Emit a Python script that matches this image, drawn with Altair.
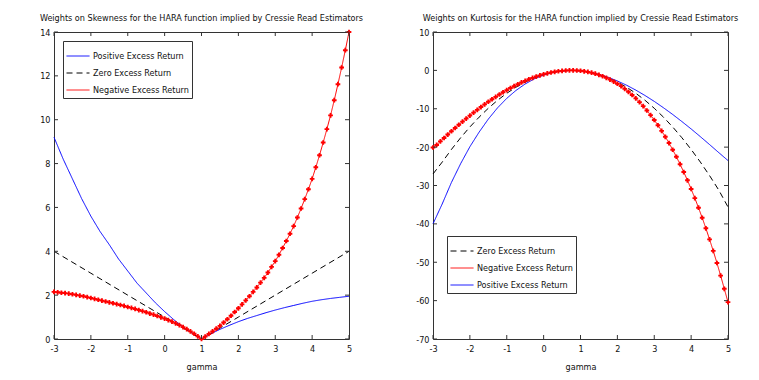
import altair as alt
import pandas as pd

# ---------------- data ----------------
gamma_fine = [-3.0, -2.9, -2.8, -2.7, -2.6, -2.5, -2.4, -2.3, -2.2, -2.1,
              -2.0, -1.9, -1.8, -1.7, -1.6, -1.5, -1.4, -1.3, -1.2, -1.1,
              -1.0, -0.9, -0.8, -0.7, -0.6, -0.5, -0.4, -0.3, -0.2, -0.1,
              0.0, 0.1, 0.2, 0.3, 0.4, 0.5, 0.6, 0.7, 0.8, 0.9,
              1.0, 1.1, 1.2, 1.3, 1.4, 1.5, 1.6, 1.7, 1.8, 1.9,
              2.0, 2.1, 2.2, 2.3, 2.4, 2.5, 2.6, 2.7, 2.8, 2.9,
              3.0, 3.1, 3.2, 3.3, 3.4, 3.5, 3.6, 3.7, 3.8, 3.9,
              4.0, 4.1, 4.2, 4.3, 4.4, 4.5, 4.6, 4.7, 4.8, 4.9, 5.0]
gamma_quarter = [-3.0, -2.75, -2.5, -2.25, -2.0, -1.75, -1.5, -1.25, -1.0, -0.75,
                 -0.5, -0.25, 0.0, 0.25, 0.5, 0.75, 1.0, 1.25, 1.5, 1.75,
                 2.0, 2.25, 2.5, 2.75, 3.0, 3.25, 3.5, 3.75, 4.0, 4.25,
                 4.5, 4.75, 5.0]
gamma_int = [-3, -2, -1, 0, 1, 2, 3, 4, 5]

# Skewness weights
skew_negative = [2.15, 2.13, 2.11, 2.09, 2.07, 2.04, 2.01, 1.98, 1.95, 1.91,
                 1.87, 1.83, 1.79, 1.75, 1.71, 1.67, 1.63, 1.59, 1.55, 1.51,
                 1.46, 1.42, 1.37, 1.32, 1.27, 1.22, 1.16, 1.11, 1.05, 0.99,
                 0.93, 0.86, 0.79, 0.71, 0.63, 0.54, 0.45, 0.35, 0.24, 0.12,
                 0.00, 0.11, 0.23, 0.35, 0.47, 0.60, 0.75, 0.90, 1.06, 1.23,
                 1.40, 1.58, 1.76, 1.95, 2.15, 2.35, 2.57, 2.79, 3.03, 3.29,
                 3.55, 3.84, 4.15, 4.47, 4.80, 5.15, 5.54, 5.95, 6.38, 6.83,
                 7.30, 7.83, 8.38, 8.96, 9.57, 10.20, 10.89, 11.62, 12.38, 13.17, 14.00]
skew_positive = [9.2, 8.2, 7.3, 6.4, 5.6, 4.9, 4.3, 3.65, 3.1, 2.55,
                 2.1, 1.65, 1.25, 0.88, 0.55, 0.27, 0.0, 0.23, 0.44, 0.62,
                 0.79, 0.94, 1.07, 1.2, 1.32, 1.43, 1.53, 1.63, 1.72, 1.79,
                 1.85, 1.9, 1.95]
skew_zero = [4, 3, 2, 1, 0, 1, 2, 3, 4]

# Kurtosis weights
kurt_negative = [-20.1, -19.43, -18.50, -17.62, -16.72, -15.86, -15.02, -14.17, -13.36, -12.56,
                 -11.79, -11.02, -10.28, -9.56, -8.86, -8.18, -7.53, -6.90, -6.29, -5.70,
                 -5.14, -4.60, -4.09, -3.61, -3.15, -2.72, -2.32, -1.95, -1.61, -1.30,
                 -1.02, -0.77, -0.56, -0.37, -0.23, -0.12, -0.04, 0.00, 0.00, -0.04,
                 -0.10, -0.24, -0.41, -0.61, -0.87, -1.17, -1.53, -1.93, -2.40, -2.91,
                 -3.49, -4.12, -4.82, -5.58, -6.41, -7.31, -8.28, -9.33, -10.45, -11.65,
                 -12.93, -14.30, -15.75, -17.31, -18.94, -20.68, -22.51, -24.45, -26.49, -28.64,
                 -30.90, -33.28, -35.79, -38.40, -41.15, -44.04, -47.05, -50.19, -53.47, -56.92, -60.4]
kurt_zero = [-27.0, -23.89, -20.6, -17.55, -14.75, -12.19, -9.87, -7.8, -5.97, -4.39,
             -3.05, -1.95, -1.10, -0.49, -0.12, 0.0, -0.12, -0.49, -1.10, -1.95,
             -3.05, -4.39, -5.97, -7.8, -9.87, -12.19, -14.75, -17.55, -20.6, -23.89,
             -27.42, -31.2, -35.6]
kurt_positive = [-40.0, -34.8, -29.2, -24.3, -19.9, -16.1, -12.7, -9.77, -7.29, -5.23,
                 -3.54, -2.21, -1.22, -0.53, -0.13, 0.0, -0.12, -0.48, -1.05, -1.81,
                 -2.76, -3.87, -5.14, -6.55, -8.08, -9.74, -11.49, -13.34, -15.26, -17.27,
                 -19.33, -21.43, -23.5]

POS = "Positive Excess Return"
ZERO = "Zero Excess Return"
NEG = "Negative Excess Return"

x_ticks = [-3, -2, -1, 0, 1, 2, 3, 4, 5]
skew_ticks = [0, 2, 4, 6, 8, 10, 12, 14]
kurt_ticks = [-70, -60, -50, -40, -30, -20, -10, 0, 10]

title_left = "Weights on Skewness for the HARA function implied by Cressie Read Estimators"
title_right = "Weights on Kurtosis for the HARA function implied by Cressie Read Estimators"

# ---------------- styling ----------------
FONT = "DejaVu Sans Condensed, Liberation Sans Narrow, sans-serif"
FS = 9
FRAME = "#333333"
W, H = 295, 307
TICK = 4


def long_df(xs, ys, name):
    return pd.DataFrame({"gamma": xs, "value": ys, "series": name})


def panel(lines_df, neg_df, domain_y, y_ticks, order, colors, dashes, title, legend_xy):
    xscale = alt.Scale(domain=[-3, 5], nice=False, zero=False)
    yscale = alt.Scale(domain=domain_y, nice=False, zero=False)
    xaxis = alt.Axis(values=x_ticks, title="gamma", labelExpr="'' + datum.value",
                     labelOverlap=False, labelFlush=False)
    yaxis = alt.Axis(values=y_ticks, title=None, labelExpr="'' + datum.value",
                     labelOverlap=False, labelFlush=False)
    leg = alt.Legend(
        title=None, orient="none", legendX=legend_xy[0], legendY=legend_xy[1],
        fillColor="white", strokeColor=FRAME, padding=3,
        symbolType="stroke", symbolSize=529, symbolStrokeWidth=1,
        labelFont=FONT, labelFontSize=FS, labelColor="#111", labelLimit=0,
        rowPadding=0, labelOffset=3,
    )
    lines = alt.Chart(lines_df).mark_line(strokeWidth=1).encode(
        x=alt.X("gamma:Q", scale=xscale, axis=xaxis),
        y=alt.Y("value:Q", scale=yscale, axis=yaxis),
        color=alt.Color("series:N", scale=alt.Scale(domain=order, range=colors), legend=leg),
        strokeDash=alt.StrokeDash("series:N", scale=alt.Scale(domain=order, range=dashes), legend=leg),
        order="gamma:Q",
    )
    pts = alt.Chart(neg_df).mark_point(shape="cross", filled=True, size=22, color="#ff0000",
                                       opacity=1).encode(
        x=alt.X("gamma:Q", axis=xaxis), y=alt.Y("value:Q", axis=yaxis))
    xt = pd.DataFrame({"t": x_ticks})
    yt = pd.DataFrame({"t": y_ticks})
    xb = alt.Chart(xt).mark_rule(color=FRAME, strokeWidth=1).encode(
        x=alt.X("t:Q", axis=xaxis), y=alt.value(H), y2=alt.value(H - TICK))
    xtop = alt.Chart(xt).mark_rule(color=FRAME, strokeWidth=1).encode(
        x=alt.X("t:Q", axis=xaxis), y=alt.value(0), y2=alt.value(TICK))
    yl = alt.Chart(yt).mark_rule(color=FRAME, strokeWidth=1).encode(
        y=alt.Y("t:Q", axis=yaxis), x=alt.value(0), x2=alt.value(TICK))
    yr = alt.Chart(yt).mark_rule(color=FRAME, strokeWidth=1).encode(
        y=alt.Y("t:Q", axis=yaxis), x=alt.value(W - TICK), x2=alt.value(W))
    return alt.layer(lines, pts, xb, xtop, yl, yr).properties(
        width=W, height=H,
        title=alt.TitleParams(title, font=FONT, fontSize=FS, fontWeight="normal",
                              color="#111", offset=5, anchor="middle"),
    )


skew_lines = pd.concat([
    long_df(gamma_quarter, skew_positive, POS),
    long_df(gamma_int, skew_zero, ZERO),
    long_df(gamma_fine, skew_negative, NEG),
])
skew_neg = long_df(gamma_fine, skew_negative, NEG)

kurt_lines = pd.concat([
    long_df(gamma_quarter, kurt_zero, ZERO),
    long_df(gamma_fine, kurt_negative, NEG),
    long_df(gamma_quarter, kurt_positive, POS),
])
kurt_neg = long_df(gamma_fine, kurt_negative, NEG)

left = panel(skew_lines, skew_neg, [0, 14], skew_ticks,
             [POS, ZERO, NEG], ["#0000ff", "#000000", "#ff0000"],
             [[1, 0], [6, 4], [1, 0]], title_left, (9, 9))
right = panel(kurt_lines, kurt_neg, [-70, 10], kurt_ticks,
              [ZERO, NEG, POS], ["#000000", "#ff0000", "#0000ff"],
              [[6, 4], [1, 0], [1, 0]], title_right, (14, 204))

chart = alt.hconcat(left, right, spacing=84, bounds="flush").resolve_scale(
    color="independent", strokeDash="independent", x="independent", y="independent"
).properties(
    padding={"left": 31, "top": 5, "right": 0, "bottom": 0},
    background="white",
).configure_view(
    stroke=FRAME, strokeWidth=1
).configure_axis(
    grid=False, ticks=False, domain=False, labelOverlap=False,
    labelFont=FONT, labelFontSize=FS, labelColor="#111",
    titleFont=FONT, titleFontSize=FS, titleFontWeight="normal", titleColor="#111",
).configure_axisX(
    labelPadding=5, titlePadding=9,
).configure_axisY(
    labelPadding=4,
)

chart.save("out.html", embed_options={"renderer": "svg", "actions": False})
